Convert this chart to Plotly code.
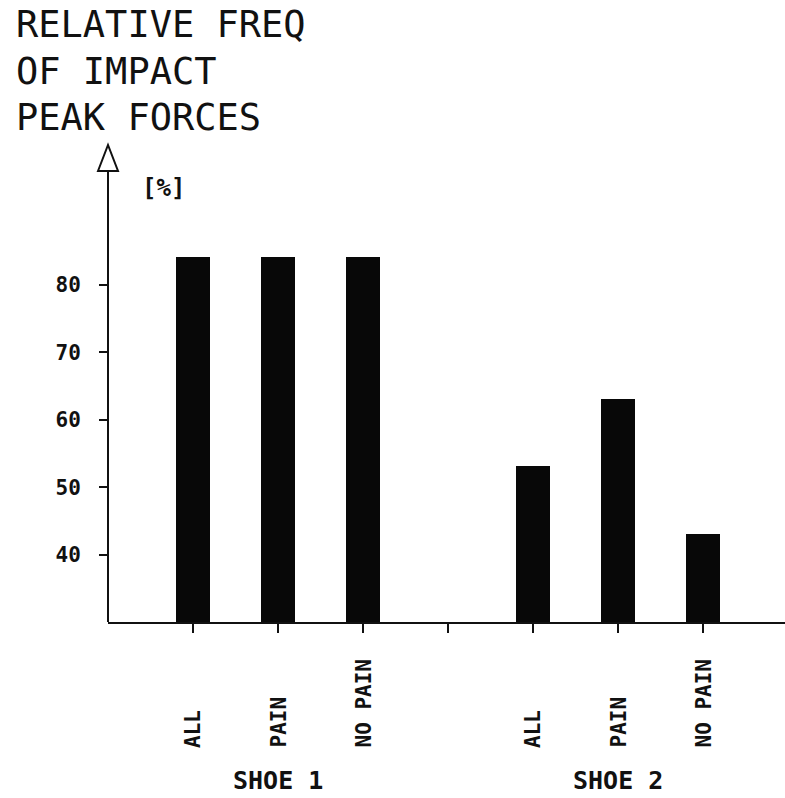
import plotly.graph_objects as go

# Data
positions = [1, 2, 3, 5, 6, 7]
bar_labels = ["ALL", "PAIN", "NO PAIN", "ALL", "PAIN", "NO PAIN"]
values = [84.1, 84.1, 84.1, 53.1, 63.1, 43.1]
groups = ["SHOE 1", "SHOE 2"]
group_pos = [2, 6]
ytick_vals = [40, 50, 60, 70, 80]
title_lines = ["RELATIVE FREQ", "OF IMPACT", "PEAK FORCES"]

BASE = 30
MONO = "DejaVu Sans Mono"

fig = go.Figure()
fig.add_trace(go.Bar(
    x=positions,
    y=[v - BASE for v in values],
    base=BASE,
    width=0.4,
    marker=dict(color="#080808", line=dict(width=0)),
    hoverinfo="skip",
))

W, H = 785, 798
L, R, T, B = 108, 0, 147, 176
pw, ph = W - L - R, H - T - B

def px_x(px):
    return (px - L) / pw

def px_y(py):
    return (H - B - py) / ph

annotations = []
# title
for line, cy in zip(title_lines, [25, 72, 118]):
    annotations.append(dict(text=line, xref="paper", yref="paper",
                            x=px_x(14), y=px_y(cy), xanchor="left", yanchor="middle",
                            showarrow=False, font=dict(family=MONO, size=37, color="#111")))
annotations.append(dict(text="<b>[%]</b>", xref="paper", yref="paper",
                        x=px_x(163), y=px_y(188), xanchor="center", yanchor="middle",
                        showarrow=False, font=dict(family=MONO, size=24, color="#111")))
# category labels
for p, lab in zip(positions, bar_labels):
    annotations.append(dict(text="<b>" + lab + "</b>", xref="x", yref="paper",
                            x=p, y=px_y(750), xanchor="center", yanchor="bottom",
                            textangle=-90, showarrow=False,
                            font=dict(family=MONO, size=21, color="#111")))
for p, g in zip(group_pos, groups):
    annotations.append(dict(text="<b>" + g + "</b>", xref="x", yref="paper",
                            x=p, y=px_y(780), xanchor="center", yanchor="middle",
                            showarrow=False, font=dict(family=MONO, size=25, color="#111")))

shapes = [
    # y axis line
    dict(type="line", xref="paper", yref="paper", x0=0, x1=0, y0=0, y1=px_y(171),
         line=dict(color="#111", width=2)),
    # arrow head outline
    dict(type="path", xref="paper", yref="paper",
         path="M {a},{b} L {c},{d} L {e},{b} Z".format(
             a=px_x(98), b=px_y(171), c=px_x(108), d=px_y(145), e=px_x(118)),
         line=dict(color="#111", width=2), fillcolor="white"),
]

fig.update_layout(
    width=W, height=H, autosize=False,
    margin=dict(l=L, r=R, t=T, b=B),
    paper_bgcolor="white", plot_bgcolor="white",
    showlegend=False,
    annotations=annotations,
    shapes=shapes,
    bargap=0,
    xaxis=dict(range=[0, pw / 85], tickvals=[1, 2, 3, 4, 5, 6, 7],
               ticktext=[""] * 7, ticks="outside", ticklen=9, tickwidth=2,
               tickcolor="#111", showline=True, linecolor="#111", linewidth=2,
               showgrid=False, zeroline=False, fixedrange=True),
    yaxis=dict(range=[BASE, BASE + ph / 6.74], tickvals=ytick_vals,
               ticktext=["<b>%d</b>" % v for v in ytick_vals],
               ticks="outside", ticklen=8, tickwidth=2, tickcolor="#111",
               ticklabelstandoff=14,
               tickfont=dict(family=MONO, size=21, color="#111"),
               showline=False, showgrid=False, zeroline=False, fixedrange=True),
)

fig.write_html("out.html", config={"displayModeBar": False},
               post_script="document.body.style.margin='0';document.body.style.overflow='hidden';")
